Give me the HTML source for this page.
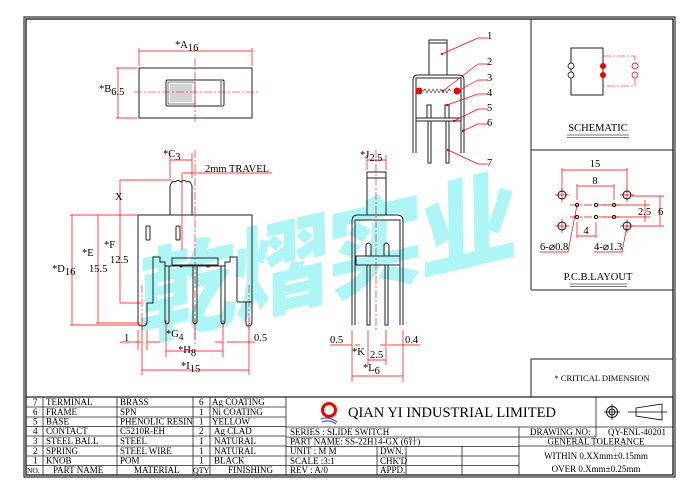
<!DOCTYPE html>
<html><head><meta charset="utf-8"><style>
html,body{margin:0;padding:0;background:#fff;}
svg{display:block;}
text{font-family:"Liberation Serif",serif;fill:#000;}
.r{stroke:#f00;stroke-width:0.7;fill:none;}
.rd{stroke:#f00;stroke-width:0.6;fill:none;stroke-dasharray:8 2 2 2;}
.k{stroke:#222;stroke-width:1;fill:none;}
.t{stroke:#222;stroke-width:0.8;fill:none;}
.s{font-size:9px;}
.m{font-size:10.5px;}
</style></head><body>
<svg width="700" height="494" viewBox="0 0 700 494" xmlns="http://www.w3.org/2000/svg">
<!-- watermark -->
<g transform="translate(140,338) rotate(-13) skewX(-12)">
<text x="0" y="0" style="font-family:'Noto Sans CJK SC','WenQuanYi Zen Hei',sans-serif;font-weight:900;font-size:100px;fill:#aef5f5;letter-spacing:-4px">乾熠实业</text>
</g>
<!-- outer frame -->
<rect x="24" y="17" width="651" height="460" fill="none" stroke="#000" stroke-width="1"/>
<rect x="26" y="19" width="647" height="456" fill="none" stroke="#000" stroke-width="1.2"/>
<!-- right panels -->
<line x1="531" y1="19" x2="531" y2="290" class="k"/>
<line x1="531" y1="150" x2="673" y2="150" class="k"/>
<line x1="531" y1="290" x2="673" y2="290" class="k"/>
<rect x="531" y="359" width="142" height="38" class="k"/>
<text x="602" y="381" text-anchor="middle" style="font-size:8.5px">* CRITICAL  DIMENSION</text>

<!-- schematic -->
<rect x="571" y="48" width="32" height="47" class="k"/>
<circle cx="571" cy="66" r="3" fill="#fff" stroke="#000" stroke-width="0.8"/>
<circle cx="571" cy="75" r="3" fill="#fff" stroke="#000" stroke-width="0.8"/>
<circle cx="603" cy="66" r="3" fill="#e00"/>
<circle cx="603" cy="75" r="3" fill="#e00"/>
<path d="M603,56 H635 V63 M635,78 V86 H603" class="rd"/>
<circle cx="635" cy="66" r="3" fill="#fff" stroke="#f00" stroke-width="0.8"/>
<circle cx="635" cy="75" r="3" fill="#fff" stroke="#f00" stroke-width="0.8"/>
<text x="598" y="131" text-anchor="middle" class="m">SCHEMATIC</text>
<line x1="567" y1="135" x2="629" y2="135" stroke="#777" stroke-width="1"/>
<line x1="567" y1="137.5" x2="629" y2="137.5" stroke="#777" stroke-width="1"/>

<!-- PCB -->
<g class="r">
<path d="M562,190 V168 M627,190 V168 M562,170 H627"/>
<path d="M577,200 V184 M614,200 V184 M577,186 H614"/>
<path d="M577,222 V238 M596,222 V238 M577,236 H596"/>
<path d="M603,205 H650 M603,217 H650 M645,200 V222 M632,196 H664 M632,226 H664 M660,196 V226"/>
<path d="M555,195 H569 M562,188 V202 M620,195 H634 M627,188 V202 M555,226 H569 M562,219 V233 M620,226 H634 M627,219 V233"/>
<path d="M570,205 H620 M570,217 H620" stroke-dasharray="8 2 2 2"/>
<path d="M540,252 H568 L577,205"/>
<path d="M594,252 H622 L627,226"/>
</g>
<g fill="none" stroke="#000" stroke-width="0.9">
<circle cx="562" cy="195" r="4"/><circle cx="627" cy="195" r="4"/>
<circle cx="562" cy="226" r="4"/><circle cx="627" cy="226" r="4"/>
<circle cx="577" cy="205" r="1.7"/><circle cx="596" cy="205" r="1.7"/><circle cx="614" cy="205" r="1.7"/>
<circle cx="577" cy="217" r="1.7"/><circle cx="596" cy="217" r="1.7"/><circle cx="614" cy="217" r="1.7"/>
</g>
<text x="595" y="167" text-anchor="middle" class="m">15</text>
<text x="595" y="184" text-anchor="middle" class="m">8</text>
<text x="586" y="234" text-anchor="middle" class="m">4</text>
<text x="638" y="215" class="m">2.5</text>
<text x="658" y="215" class="m">6</text>
<text x="540" y="250" class="m">6-⌀0.8</text>
<text x="594" y="250" class="m">4-⌀1.3</text>
<text x="598" y="280" text-anchor="middle" class="m">P.C.B.LAYOUT</text>
<line x1="570" y1="284" x2="627" y2="284" stroke="#777" stroke-width="1"/>
<line x1="570" y1="286.5" x2="627" y2="286.5" stroke="#777" stroke-width="1"/>

<!-- top view -->
<rect x="139" y="68" width="113" height="50" class="k"/>
<rect x="166" y="80" width="58" height="26" rx="1.5" class="k"/>
<rect x="168" y="82" width="27" height="22" fill="#f4f4f4" stroke="#444" stroke-width="0.6"/>
<g stroke="#777" stroke-width="0.5">
<path d="M171,84V102M173,84V102M175,84V102M177,84V102M179,84V102M181,84V102M183,84V102M185,84V102M187,84V102M189,84V102M191,84V102"/>
</g>
<line x1="221" y1="81" x2="221" y2="105" class="t"/>
<path d="M134,92 H258 M195,58 V124" class="rd"/>
<path d="M139,66 V48 M252,66 V48 M139,51 H252 M137,68 H116 M137,118 H116 M118,68 V118" class="r"/>
<text x="175" y="48" class="m">*A<tspan dy="3">16</tspan></text>
<text x="99" y="92" class="m">*B<tspan dy="3">6.5</tspan></text>

<!-- side view -->
<path d="M170,215 V186 Q172,180 175,182 Q178,179 181,182 Q184,179 187,182 Q190,180 192,186 V215" class="k"/>
<path d="M138,215 H252 V302 H246 V322 Q246,326 248,326 Q252,326 252,322 M252,302 V322" class="k"/>
<path d="M138,215 V322 Q138,326 142,326 Q147,326 147,322 V303 H153 V257 H160 V262 H165 V266 M237,302 H246 M237,302 V257 H230 V262 H225 V266" class="k"/>
<path d="M172,258 H218 V265 H172 Z" class="k"/>
<path d="M165,266 H225" class="k"/>
<g class="k">
<path d="M165,266 V322 Q167,326 169,322 V266"/>
<path d="M193,266 V322 Q195,326 197,322 V266"/>
<path d="M221,266 V322 Q223,326 225,322 V266"/>
<path d="M179,265 Q181,269 183,265 M206,265 Q208,269 210,265"/>
<rect x="146" y="226" width="4" height="14" rx="1"/>
<rect x="176" y="226" width="4" height="14" rx="1"/>
</g>
<g class="r">
<path d="M170,178 V153 M192,178 V153 M170,160 H192"/>
<path d="M182,174 V250 M182,173 H272"/>
<path d="M120,180 H172 M120,180 V303 M120,303 H141"/>
<path d="M70,215 H138 M72,215 V325 M70,325 H140 M98,215 V323 M96,323 H140"/>
<path d="M142,318 V375 M249,318 V375 M142,370 H249"/>
<path d="M166,320 V357 M223,320 V357 M166,351 H223 M195,320 V340"/>
<path d="M120,342 H142 M147,342 H160 M215,342 H223 M227,342 H255 M138,330 V350 M147,330 V350"/>
</g>
<path d="M195,150 V345" class="rd"/>
<path d="M142,285 V330 M249,285 V330" class="rd"/>
<text x="163" y="157" class="m">*C<tspan dy="3">3</tspan></text>
<text x="205" y="172" class="m">2mm TRAVEL</text>
<text x="115" y="200" class="m">X</text>
<text x="52" y="272" class="m">*D<tspan dy="3">16</tspan></text>
<text x="82" y="256" class="m">*E</text>
<text x="89" y="272" class="m">15.5</text>
<text x="104" y="248" class="m">*F</text>
<text x="110" y="263" class="m">12.5</text>
<text x="124" y="341" class="m">1</text>
<text x="166" y="337" class="m">*G<tspan dy="3" style="font-size:9px">4</tspan></text>
<text x="254" y="341" class="m">0.5</text>
<text x="178" y="353" class="m">*H<tspan dy="3">8</tspan></text>
<text x="181" y="369" class="m">*I<tspan dy="3">15</tspan></text>

<!-- front view -->
<rect x="367" y="172" width="19" height="43" class="k"/>
<line x1="367" y1="178" x2="386" y2="178" class="k"/>
<path d="M352,325 V221 Q352,215 358,215 H397 Q403,215 403,221 V325 M355,325 V220 H400 V325" class="k"/>
<rect x="356" y="256" width="44" height="9" class="k"/>
<path d="M366,256 V245 Q368,241 371,245 V256 M384,256 V245 Q386,241 389,245 V256" class="k"/>
<path d="M367,265 V325 H370 V265 M385,265 V325 H388 V265" class="k"/>
<path d="M376,150 V330" class="rd"/>
<g class="r">
<path d="M367,170 V155 M386,170 V155 M367,160 H386"/>
<path d="M352,330 V382 M403,330 V382 M352,376 H403"/>
<path d="M368,330 V365 M386,330 V365 M368,360 H386"/>
<path d="M330,345 H352 M355,345 H360 M380,345 H386 M388,345 H420"/>
</g>
<text x="360" y="158" class="m">*J<tspan dy="3">2.5</tspan></text>
<text x="330" y="343" class="m">0.5</text>
<text x="405" y="343" class="m">0.4</text>
<text x="352" y="355" class="m">*K</text>
<text x="370" y="358" class="m">2.5</text>
<text x="363" y="371" class="m">*L<tspan dy="3">6</tspan></text>

<!-- exploded view -->
<rect x="429" y="40" width="18" height="35" class="k"/>
<line x1="429" y1="43" x2="447" y2="43" class="k"/>
<path d="M413,153 V80 Q413,75 418,75 H459 Q464,75 464,80 V153 M416,153 V78 H461 V153" class="k"/>
<rect x="416" y="118" width="45" height="3" class="k"/>
<path d="M427,118 V105 H431 V118 M445,118 V105 H449 V118" class="k"/>
<path d="M428,121 V163 H431 V121 M446,121 V163 H449 V121" class="k"/>
<path d="M423,91 l2,-2 l2,4 l2,-4 l2,4 l2,-4 l2,4 l2,-4 l2,4 l2,-4 l2,4 l2,-4 l2,4 l2,-4 l2,2" stroke="#333" stroke-width="0.6" fill="none"/>
<circle cx="419" cy="91" r="3.5" fill="#e00"/>
<circle cx="457" cy="91" r="3.5" fill="#e00"/>
<g class="r">
<path d="M478,38 H488 M478,38 L442,54"/>
<path d="M478,64 H488 M478,64 L443,91"/>
<path d="M478,80 H488 M478,80 L458,91"/>
<path d="M478,94 H488 M478,94 L447,105"/>
<path d="M478,109 H488 M478,109 L454,121"/>
<path d="M478,124 H488 M478,124 L463,131"/>
<path d="M478,164 H488 M478,164 L448,150"/>
</g>
<g fill="#e00"><circle cx="442" cy="54" r="1.2"/><circle cx="443" cy="91" r="1.2"/><circle cx="447" cy="105" r="1.2"/><circle cx="454" cy="121" r="1.2"/><circle cx="463" cy="131" r="1.2"/><circle cx="448" cy="150" r="1.2"/></g>
<g class="m"><text x="487" y="39">1</text><text x="487" y="65">2</text><text x="487" y="81">3</text><text x="487" y="96">4</text><text x="487" y="111">5</text><text x="487" y="126">6</text><text x="487" y="166">7</text></g>

<!-- title block -->
<g stroke="#222" stroke-width="0.8" fill="none">
<line x1="26" y1="397" x2="673" y2="397" stroke-width="1.2"/>
<path d="M26,407H286M26,417H286M26,426.5H286M26,436H286M26,446H286M26,456H286M26,465.5H286"/>
<path d="M43,397V475M117,397V475M193,397V475M210,397V475M286,397V475"/>
<path d="M286,427H673M286,437H596M286,446.5H519M286,456H519M286,465.5H519M519,446H673"/>
<path d="M596,397V437M519,427V475M377,446V475M406,446V475M462,446V475"/>
</g>
<g class="s">
<text x="33" y="405">7</text><text x="46" y="405">TERMINAL</text><text x="120" y="405">BRASS</text><text x="199" y="405">6</text><text x="212" y="405">Ag COATING</text>
<text x="33" y="415">6</text><text x="46" y="415">FRAME</text><text x="120" y="415">SPN</text><text x="199" y="415">1</text><text x="212" y="415">Ni COATING</text>
<text x="33" y="424.5">5</text><text x="46" y="424.5">BASE</text><text x="120" y="424.5">PHENOLIC RESIN</text><text x="199" y="424.5">1</text><text x="212" y="424.5">YELLOW</text>
<text x="33" y="434">4</text><text x="46" y="434">CONTACT</text><text x="120" y="434">C5210R-EH</text><text x="199" y="434">2</text><text x="214" y="434">Ag CLAD</text>
<text x="33" y="444">3</text><text x="46" y="444">STEEL BALL</text><text x="120" y="444">STEEL</text><text x="199" y="444">1</text><text x="214" y="444">NATURAL</text>
<text x="33" y="454">2</text><text x="46" y="454">SPRING</text><text x="120" y="454">STEEL WIRE</text><text x="199" y="454">1</text><text x="214" y="454">NATURAL</text>
<text x="33" y="463.5">1</text><text x="46" y="463.5">KNOB</text><text x="120" y="463.5">POM</text><text x="199" y="463.5">1</text><text x="214" y="463.5">BLACK</text>
<text x="27" y="473" style="font-size:7.5px">NO.</text><text x="53" y="473">PART NAME</text><text x="134" y="473">MATERIAL</text><text x="193" y="473" style="font-size:8px">QTY</text><text x="228" y="473">FINISHING</text>
<text x="290" y="435">SERIES : SLIDE SWITCH</text>
<text x="290" y="444.5" style="font-family:'Liberation Serif','Noto Serif CJK SC',serif">PART NAME: SS-22H14-GX (6针)</text>
<text x="290" y="454">UNIT  : M M</text><text x="380" y="454">DWN.</text>
<text x="290" y="464">SCALE :3:1</text><text x="380" y="464">CHK'D</text>
<text x="290" y="473">REV   : A/0</text><text x="380" y="473">APPD.</text>
<text x="530" y="435">DRAWING NO:</text><text x="608" y="435">QY-ENL-40201</text>
<text x="596" y="444.5" text-anchor="middle">GENERAL TOLERANCE</text>
<text x="596" y="459" text-anchor="middle">WITHIN 0.XXmm±0.15mm</text>
<text x="596" y="472" text-anchor="middle">OVER   0.Xmm±0.25mm</text>
</g>
<!-- logo -->
<circle cx="329" cy="410" r="6.5" fill="none" stroke="#e00" stroke-width="3"/>
<path d="M321,419 Q329,416 337,422 M322,422 Q330,419 336,424" stroke="#36c" stroke-width="1.2" fill="none"/>
<text x="348" y="417" style="font-size:14.5px">QIAN  YI  INDUSTRIAL  LIMITED</text>
<!-- symbols -->
<circle cx="612" cy="412" r="5.5" fill="none" stroke="#000" stroke-width="0.9"/>
<circle cx="612" cy="412" r="3" fill="none" stroke="#000" stroke-width="0.9"/>
<path d="M604,412 H620 M612,404 V420" stroke="#000" stroke-width="0.7"/>
<path d="M636,408 L662,404 V420 L636,416 Z M628,412 H667" stroke="#000" stroke-width="0.8" fill="none"/>
</svg>
</body></html>
